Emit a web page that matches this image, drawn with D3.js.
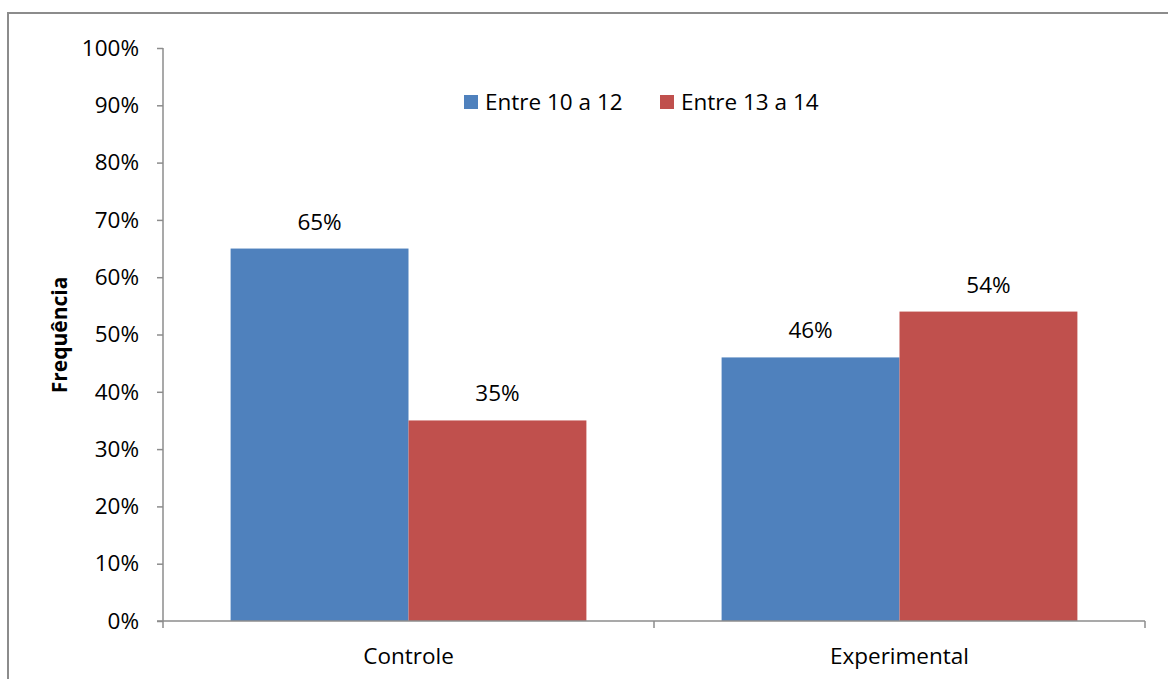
<!DOCTYPE html>
<html>
<head>
<meta charset="utf-8">
<script src="https://cdn.jsdelivr.net/npm/d3@7"></script>
<style>
  html, body { margin: 0; padding: 0; background: #fff; }
  svg text { font-family: "Open Sans", "Liberation Sans", sans-serif; fill: #000; }
</style>
</head>
<body>
<svg id="chart" width="1168" height="679"></svg>
<script>
// Age groups per study group (share of respondents)
const categories = ["Controle", "Experimental"];
const seriesNames = ["Entre 10 a 12", "Entre 13 a 14"];
const seriesEntre10a12 = [0.65, 0.46];
const seriesEntre13a14 = [0.35, 0.54];
const yTicks = [0, 0.1, 0.2, 0.3, 0.4, 0.5, 0.6, 0.7, 0.8, 0.9, 1.0];
const colors = ["#4F81BD", "#C0504D"];

const svg = d3.select("#chart");
const W = 1168, H = 679;
const FS = "22.5px";

// outer frame
svg.append("rect")
  .attr("x", 8).attr("y", 13)
  .attr("width", W + 10).attr("height", H + 10)
  .attr("fill", "#fff").attr("stroke", "#8c8c8c").attr("stroke-width", 2);

const plot = { left: 163, right: 1145, top: 48, bottom: 621 };

const x0 = d3.scaleBand().domain(categories)
  .range([plot.left, plot.right]).paddingInner(0).paddingOuter(0);
const x1 = d3.scaleBand().domain(seriesNames)
  .range([0, x0.bandwidth()]).paddingInner(0).paddingOuter(0.38);
const y = d3.scaleLinear().domain([0, 1]).range([plot.bottom, plot.top]);

const rows = categories.map((c, i) => ({
  cat: c,
  vals: [seriesEntre10a12[i], seriesEntre13a14[i]]
}));

// bars
const groups = svg.append("g").selectAll("g").data(rows).join("g")
  .attr("transform", d => `translate(${x0(d.cat)},0)`);

groups.selectAll("rect")
  .data(d => d.vals.map((v, j) => ({ name: seriesNames[j], v, j })))
  .join("rect")
  .attr("x", d => x1(d.name))
  .attr("y", d => y(d.v))
  .attr("width", x1.bandwidth())
  .attr("height", d => y(0) - y(d.v))
  .attr("fill", d => colors[d.j]);

// value labels
groups.selectAll("text.val")
  .data(d => d.vals.map((v, j) => ({ name: seriesNames[j], v, j })))
  .join("text")
  .attr("class", "val")
  .attr("x", d => x1(d.name) + x1.bandwidth() / 2)
  .attr("y", d => y(d.v) - 19)
  .attr("text-anchor", "middle")
  .style("font-size", FS)
  .text(d => d3.format(".0%")(d.v));

// y axis
const yAxis = d3.axisLeft(y).tickValues(yTicks).tickFormat(d3.format(".0%"))
  .tickSize(6).tickPadding(18);
const gy = svg.append("g").attr("transform", `translate(${plot.left},0)`).call(yAxis);
gy.select(".domain").attr("stroke", "#8c8c8c").attr("stroke-width", 1.5)
  .attr("d", `M0,${plot.top}V${plot.bottom}`);
gy.selectAll(".tick line").attr("stroke", "#8c8c8c").attr("stroke-width", 1.5);
gy.selectAll(".tick text").style("font-size", FS).attr("fill", "#000")
  .style("font-family", "'Open Sans', 'Liberation Sans', sans-serif");

// x axis with ticks on category boundaries
const gx = svg.append("g").attr("transform", `translate(0,${plot.bottom})`);
gx.append("line")
  .attr("x1", plot.left - 6).attr("x2", plot.right)
  .attr("stroke", "#8c8c8c").attr("stroke-width", 1.5);
const boundaries = categories.map(c => x0(c)).concat([x0(categories[categories.length - 1]) + x0.bandwidth()]);
gx.selectAll("line.tk").data(boundaries).join("line")
  .attr("class", "tk")
  .attr("x1", d => d).attr("x2", d => d)
  .attr("y1", 0).attr("y2", 7)
  .attr("stroke", "#8c8c8c").attr("stroke-width", 1.5);
gx.selectAll("text").data(categories).join("text")
  .attr("x", d => x0(d) + x0.bandwidth() / 2)
  .attr("y", 43)
  .attr("text-anchor", "middle")
  .style("font-size", FS)
  .text(d => d);

// y axis title
svg.append("text")
  .attr("transform", `translate(67,335) rotate(-90)`)
  .attr("text-anchor", "middle")
  .style("font-size", "21px")
  .style("font-weight", "bold")
  .text("Frequência");

// legend
const legendX = [464, 660];
const legend = svg.append("g").selectAll("g").data(seriesNames).join("g")
  .attr("transform", (d, i) => `translate(${legendX[i]},95)`);
legend.append("rect").attr("width", 14).attr("height", 14)
  .attr("fill", (d, i) => colors[i]);
legend.append("text").attr("x", 21).attr("y", 15)
  .style("font-size", FS).text(d => d);
</script>
</body>
</html>
